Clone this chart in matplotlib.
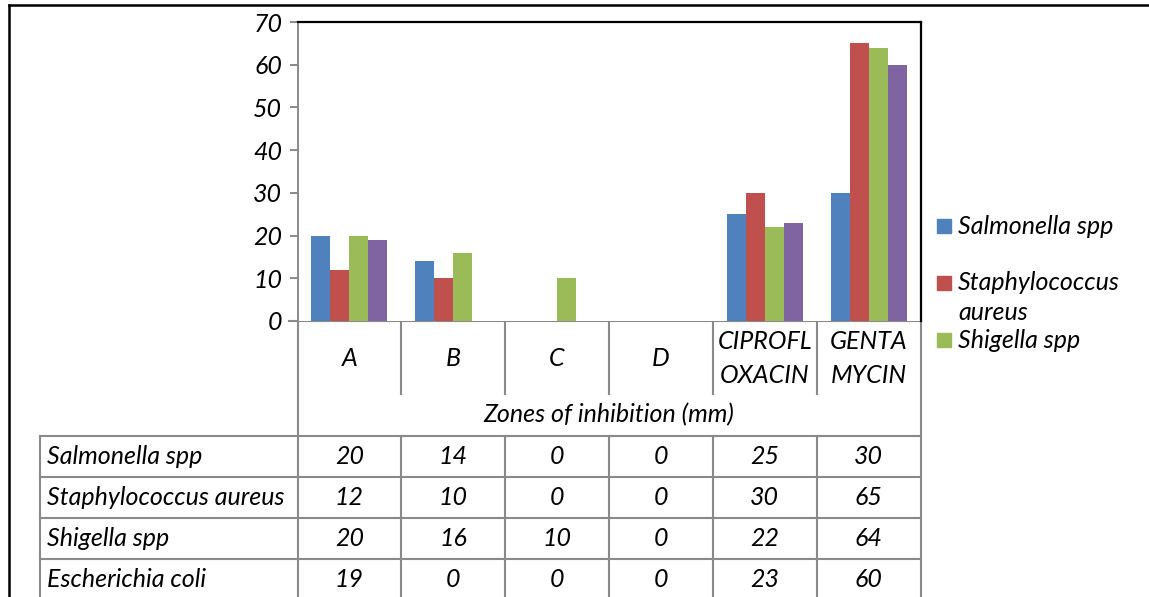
import matplotlib
matplotlib.use("Agg")
import matplotlib.pyplot as plt
from matplotlib.patches import Rectangle
import numpy as np

categories = ["A", "B", "C", "D", "CIPROFL\nOXACIN", "GENTA\nMYCIN"]
series_names = ["Salmonella spp", "Staphylococcus aureus", "Shigella spp", "Escherichia coli"]
salmonella = [20, 14, 0, 0, 25, 30]
staphylococcus = [12, 10, 0, 0, 30, 65]
shigella = [20, 16, 10, 0, 22, 64]
escherichia = [19, 0, 0, 0, 23, 60]
colors = ["#4F81BD", "#C0504D", "#9BBB59", "#8064A2"]
legend_labels = ["Salmonella spp", "Staphylococcus\naureus", "Shigella spp"]
axis_title = "Zones of inhibition (mm)"

series = [salmonella, staphylococcus, shigella, escherichia]

W, H = 1149, 597
plt.rcParams["font.family"] = ["Lato", "DejaVu Sans"]
plt.rcParams["font.style"] = "italic"
FS = 18
GRID = "#8a8a8a"

fig = plt.figure(figsize=(W / 100, H / 100), dpi=100)

# plot area (pixel box -> figure fraction)
px_left, px_right, px_top, px_bottom = 297.5, 920.5, 22, 321
ax = fig.add_axes([px_left / W, 1 - px_bottom / H, (px_right - px_left) / W, (px_bottom - px_top) / H])
x = np.arange(len(categories))
bw = 0.183
for k, vals in enumerate(series):
    ax.bar(x + (k - 1.5) * bw, vals, width=bw, color=colors[k], edgecolor="none", zorder=2)
ax.set_xlim(-0.5, len(categories) - 0.5)
ax.set_ylim(0, 70)
ax.set_yticks(np.arange(0, 71, 10))
ax.set_xticks([])
ax.tick_params(axis="y", length=6, width=1.4, color=GRID, labelsize=FS, pad=5)
for lab in ax.get_yticklabels():
    lab.set_fontstyle("italic")
ax.spines["left"].set_color(GRID)
ax.spines["left"].set_linewidth(1.4)
ax.spines["bottom"].set_visible(False)
for s in ("top", "right"):
    ax.spines[s].set_color("black")
    ax.spines[s].set_linewidth(1.6)

# overlay in pixel coordinates for the data table, legend and frame
ov = fig.add_axes([0, 0, 1, 1], zorder=-1)
ov.set_xlim(0, W)
ov.set_ylim(H, 0)
ov.axis("off")

cw = (px_right - px_left) / len(categories)
col_edges = [px_left + i * cw for i in range(len(categories) + 1)]
tbl_left = 40
head_bottom, zone_bottom = 394, 436
row_h = 41
lw = 1.5

# outer frame
ov.plot([9, W], [5, 5], color="black", lw=1.8)
ov.plot([9, 9], [5, H], color="black", lw=1.8)

# category axis line and header dividers
ov.plot([289, px_right], [px_bottom, px_bottom], color=GRID, lw=lw)
for e in col_edges[1:-1]:
    ov.plot([e, e], [px_bottom, head_bottom], color=GRID, lw=lw)
ov.plot([px_left, px_left], [px_bottom, H], color=GRID, lw=lw)
ov.plot([px_right, px_right], [px_bottom, H], color=GRID, lw=lw)
for i, cat in enumerate(categories):
    cx = (col_edges[i] + col_edges[i + 1]) / 2
    ov.text(cx, (px_bottom + head_bottom) / 2 + 1, cat, ha="center", va="center",
            fontsize=FS, linespacing=1.55)
ov.text((px_left + px_right) / 2, (head_bottom + zone_bottom) / 2, axis_title,
        ha="center", va="center", fontsize=FS)

# data rows
ov.plot([tbl_left, px_right], [zone_bottom, zone_bottom], color=GRID, lw=lw)
ov.plot([tbl_left, tbl_left], [zone_bottom, H], color=GRID, lw=lw)
for e in col_edges[1:-1]:
    ov.plot([e, e], [zone_bottom, H], color=GRID, lw=lw)
for r, (name, vals) in enumerate(zip(series_names, series)):
    top = zone_bottom + r * row_h
    if r > 0:
        ov.plot([tbl_left, px_right], [top, top], color=GRID, lw=lw)
    cy = top + row_h / 2
    ov.text(tbl_left + 7, cy, name, ha="left", va="center", fontsize=FS)
    for i, v in enumerate(vals):
        cx = (col_edges[i] + col_edges[i + 1]) / 2
        ov.text(cx, cy, str(v), ha="center", va="center", fontsize=FS)

# legend (only the first three entries fit)
leg_y = [226, 283, 340]
for k, (lab, ly) in enumerate(zip(legend_labels, leg_y)):
    ov.add_patch(Rectangle((937, ly - 7), 14, 14, color=colors[k]))
    ov.text(958, ly, lab.split("\n")[0], ha="left", va="center", fontsize=FS)
    if "\n" in lab:
        ov.text(958, ly + 30, lab.split("\n")[1], ha="left", va="center", fontsize=FS)

fig.savefig("out.png", dpi=100)
